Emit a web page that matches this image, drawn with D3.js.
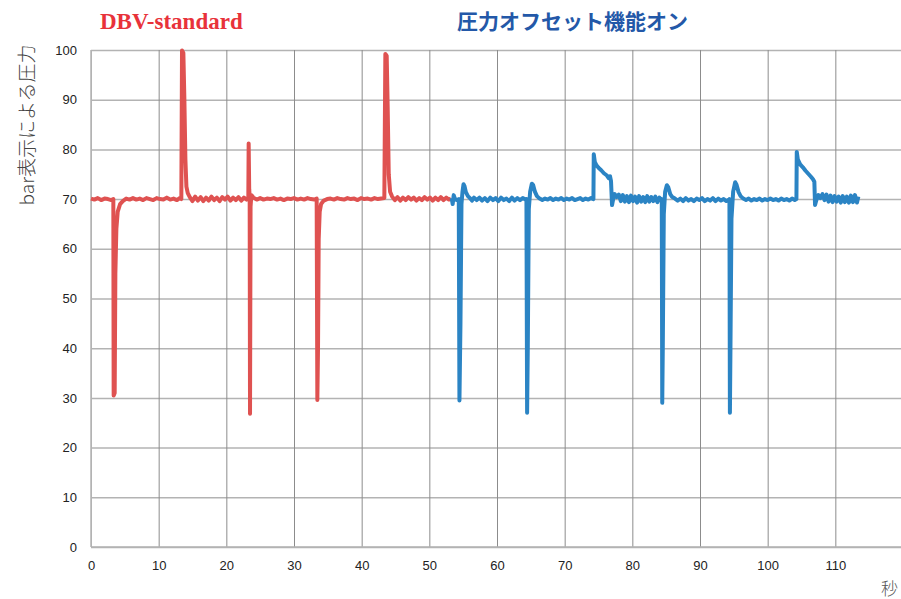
<!DOCTYPE html>
<html>
<head>
<meta charset="utf-8">
<script src="https://cdn.jsdelivr.net/npm/d3@7"></script>
<style>
  body { margin: 0; background: #fff; }
  svg { display: block; }
</style>
</head>
<body>
<div id="container"></div>
<script>
/* DATA */
const xTicks = [0, 10, 20, 30, 40, 50, 60, 70, 80, 90, 100, 110]
const yTicks = [0, 10, 20, 30, 40, 50, 60, 70, 80, 90, 100]

// DBV-standard, [seconds, bar]
const redSeries = [
  [0,70.1],[0.5,69.9],[1,70.2],[1.5,69.8],[2,70.1],[2.5,70.0],[3,69.8],[3.3,70.0],
  [3.35,30.5],[3.5,31],[3.6,55],[3.75,64],[3.95,67.5],[4.3,69.0],[4.7,69.6],[5.2,70.1],
  [5.7,69.9],[6.2,70.2],[6.7,69.9],[7.2,70.1],[7.7,69.8],[8.2,70.2],[8.7,70.0],[9.2,69.8],
  [9.7,70.2],[10.2,70.0],[10.7,69.9],[11.2,70.3],[11.7,69.9],[12.2,70.1],[12.7,69.8],[13.1,70.2],
  [13.35,70.0],[13.45,99.9],[13.65,99.4],[13.8,90],[13.95,78],[14.1,72.5],[14.3,71.2],[14.6,70.4],
  [15,69.6],[15.4,70.5],[15.8,69.7],[16.2,70.4],[16.6,69.6],[17,70.3],[17.4,69.7],[17.8,70.5],
  [18.2,69.8],[18.6,70.3],[19,69.6],[19.4,70.4],[19.8,69.9],[20.2,70.5],[20.6,69.7],[21,70.3],
  [21.4,69.8],[21.8,70.4],[22.2,69.7],[22.6,70.3],[23,69.9],[23.25,70.2],[23.3,81.2],[23.38,72],
  [23.45,70.5],[23.5,26.8],[23.58,68.5],[23.7,70.8],[24.0,70.3],[24.5,69.9],[25,70.2],[25.5,69.9],
  [26,70.1],[26.5,70.0],[27,70.2],[27.5,69.9],[28,70.1],[28.5,69.8],[29,70.1],[29.5,70.0],
  [30,70.2],[30.5,69.9],[31,70.1],[31.5,69.9],[32,70.2],[32.5,70.0],[33,69.9],[33.35,70.1],
  [33.45,29.6],[33.55,40],[33.65,62],[33.8,67.5],[34.0,69.0],[34.4,69.7],[34.9,70.0],[35.4,70.1],
  [35.9,69.9],[36.4,70.2],[36.9,70.0],[37.4,69.9],[37.9,70.2],[38.4,70.0],[38.9,70.1],[39.4,69.8],
  [39.9,70.2],[40.4,70.0],[40.9,70.1],[41.4,69.9],[41.9,70.2],[42.4,70.0],[42.9,70.1],[43.35,70.2],
  [43.5,99.2],[43.7,98.8],[43.85,88],[44.0,75],[44.2,71.5],[44.5,70.5],[44.9,69.8],[45.3,70.4],
  [45.7,69.7],[46.1,70.3],[46.5,69.8],[46.9,70.4],[47.3,69.9],[47.7,70.3],[48.1,69.7],[48.5,70.2],
  [48.9,69.8],[49.3,70.4],[49.7,69.9],[50.1,70.3],[50.5,69.7],[50.9,70.3],[51.3,69.8],[51.7,70.4],
  [52.1,69.8],[52.5,70.3],[52.9,69.9],[53.2,70.1]
]

// 圧力オフセット機能オン, [seconds, bar]
const blueSeries = [
  [53.3,70.2],[53.45,69.0],[53.6,70.8],[53.8,70.0],[54.1,69.8],[54.35,70.0],[54.45,29.5],[54.6,45],
  [54.75,69],[54.9,71.5],[55.05,73.0],[55.2,72.6],[55.4,71.4],[55.7,70.6],[56,70.2],[56.3,69.7],
  [56.6,70.3],[57,69.8],[57.4,70.3],[57.8,69.7],[58.2,70.2],[58.6,69.6],[59,70.3],[59.4,69.8],
  [59.8,70.2],[60.2,69.6],[60.6,70.3],[61,69.8],[61.4,70.1],[61.8,69.6],[62.2,70.3],[62.6,69.7],
  [63,70.2],[63.4,69.8],[63.8,70.2],[64.2,69.9],[64.35,70],[64.45,27],[64.55,40],[64.7,68],
  [64.9,71.5],[65.15,73.1],[65.35,72.8],[65.6,71.5],[65.9,70.6],[66.3,70.1],[66.7,69.8],[67.1,70.1],
  [67.5,69.9],[67.9,70.2],[68.3,69.8],[68.7,70.1],[69.1,69.9],[69.5,70.2],[69.9,69.8],[70.3,70.1],
  [70.7,69.9],[71.1,70.2],[71.5,69.8],[71.9,70.0],[72.3,70.2],[72.7,69.8],[73.1,70.1],[73.5,69.9],
  [73.9,70.2],[74.25,70.0],[74.3,79.0],[74.45,77.5],[74.7,76.8],[75,76.3],[75.4,75.8],[75.8,75.2],
  [76.2,74.8],[76.5,74.2],[76.7,74.6],[76.85,73.6],[77.0,68.8],[77.2,70.2],[77.4,71.0],[77.7,70.4],
  [78.0,70.9],[78.3,69.6],[78.6,70.8],[78.9,69.5],[79.2,70.6],[79.5,69.4],[79.8,70.7],[80.1,69.6],
  [80.4,70.5],[80.7,69.3],[81.0,70.6],[81.3,69.5],[81.6,70.4],[81.9,69.4],[82.2,70.6],[82.5,69.5],
  [82.8,70.4],[83.1,69.6],[83.4,70.5],[83.7,69.4],[84.0,70.3],[84.3,69.9],[84.35,70],[84.42,29],
  [84.5,40],[84.65,67],[84.85,71.5],[85.1,72.8],[85.3,72.4],[85.6,71.0],[85.9,70.4],[86.3,70.1],
  [86.7,69.7],[87.1,70.1],[87.5,69.6],[87.9,70.2],[88.3,69.7],[88.7,70.0],[89.1,69.6],[89.5,70.1],
  [89.9,69.8],[90.3,70.2],[90.7,69.6],[91.1,70.0],[91.5,69.7],[91.9,70.2],[92.3,69.6],[92.7,70.1],
  [93.1,69.7],[93.5,70.0],[93.9,69.6],[94.3,69.9],[94.35,70],[94.42,27],[94.5,40],[94.65,66],
  [94.9,71.5],[95.2,73.4],[95.4,72.9],[95.7,71.4],[96.0,70.6],[96.4,70.1],[96.8,69.8],[97.2,70.1],
  [97.6,69.7],[98,70.0],[98.4,69.8],[98.8,70.1],[99.2,69.7],[99.6,70.0],[100,69.8],[100.4,70.1],
  [100.8,69.8],[101.2,70.0],[101.6,69.7],[102,70.1],[102.4,69.8],[102.8,70.0],[103.2,69.7],[103.6,70.1],
  [104.0,69.8],[104.25,70.0],[104.3,79.5],[104.45,78],[104.8,77],[105.2,76.4],[105.6,75.7],[106,75.1],
  [106.4,74.5],[106.7,74.0],[106.9,73.5],[107.0,68.8],[107.2,69.8],[107.5,70.8],[107.8,70.2],[108.1,71.0],
  [108.4,69.8],[108.7,70.9],[109,69.5],[109.3,70.7],[109.6,69.4],[109.9,70.6],[110.2,69.5],[110.5,70.5],
  [110.8,69.3],[111.1,70.6],[111.4,69.4],[111.7,70.5],[112.0,69.3],[112.3,70.7],[112.6,69.4],[112.9,70.8],
  [113.2,69.3],[113.4,70.5]
]

/* CONSTANTS */
const width = 901
const height = 599
const margin = { top: 50, bottom: 52, left: 91, right: -2 }

const svg = d3.select("#container")
  .append("svg")
  .attr("width", width)
  .attr("height", height)

/* SCALES */
const xScale = d3.scaleLinear()
  .domain([0, 120])
  .range([margin.left, width - margin.right])

const yScale = d3.scaleLinear()
  .domain([0, 100])
  .range([height - margin.bottom, margin.top])

// horizontal grid + y labels
const yAxis = d3.axisLeft(yScale)
  .tickValues(yTicks)
  .tickSize(-(width - margin.left))
  .tickPadding(14)
svg.append("g")
  .attr("transform", `translate(${margin.left},0)`)
  .call(yAxis)
  .call(g => g.select(".domain").remove())
  .call(g => g.selectAll(".tick line").attr("stroke", "#b3b3b3").attr("stroke-width", 1.5))
  .call(g => g.selectAll(".tick text")
    .attr("font-family", "Liberation Sans, Arial, sans-serif")
    .attr("font-size", 13)
    .attr("fill", "#222"))

// vertical grid + x labels
const xAxis = d3.axisBottom(xScale)
  .tickValues(xTicks)
  .tickSize(-(yScale(0) - yScale(100)))
  .tickPadding(14)
  .tickFormat(d3.format("d"))
svg.append("g")
  .attr("transform", `translate(0,${yScale(0)})`)
  .call(xAxis)
  .call(g => g.select(".domain").remove())
  .call(g => g.selectAll(".tick line").attr("stroke", d => d === 0 ? "#b3b3b3" : "#8c8c8c").attr("stroke-width", 1))
  .call(g => g.selectAll(".tick text")
    .attr("font-family", "Liberation Sans Narrow, Liberation Sans, Arial, sans-serif")
    .attr("font-size", 13)
    .attr("fill", "#222"))

// axis lines
svg.append("line")
  .attr("x1", xScale(0)).attr("x2", xScale(0))
  .attr("y1", yScale(100)).attr("y2", yScale(0))
  .attr("stroke", "#b3b3b3").attr("stroke-width", 1.5)
svg.append("line")
  .attr("x1", xScale(0)).attr("x2", width)
  .attr("y1", yScale(0)).attr("y2", yScale(0))
  .attr("stroke", "#b3b3b3").attr("stroke-width", 1.5)

/* LINES */
const line = d3.line()
  .x(d => xScale(d[0]))
  .y(d => yScale(d[1]))

svg.append("path")
  .datum(redSeries)
  .attr("d", line)
  .attr("fill", "none")
  .attr("stroke", "#df5251")
  .attr("stroke-width", 4)
  .attr("stroke-linejoin", "round")

svg.append("path")
  .datum(blueSeries)
  .attr("d", line)
  .attr("fill", "none")
  .attr("stroke", "#2b84c4")
  .attr("stroke-width", 4)
  .attr("stroke-linejoin", "round")

/* TEXT */
svg.append("text")
  .attr("x", 100).attr("y", 29)
  .attr("font-family", "Liberation Serif, serif")
  .attr("font-weight", "bold")
  .attr("font-size", 23)
  .attr("fill", "#e8323a")
  .text("DBV-standard")

svg.append("text")
  .attr("x", 457).attr("y", 29)
  .attr("font-family", "Noto Sans CJK JP, sans-serif")
  .attr("font-weight", "bold")
  .attr("font-size", 21)
  .attr("fill", "#2358a8")
  .text("圧力オフセット機能オン")

svg.append("text")
  .attr("transform", "translate(34,125) rotate(-90)")
  .attr("text-anchor", "middle")
  .attr("font-family", "Noto Sans CJK JP, sans-serif")
  .attr("font-weight", 300)
  .attr("font-size", 19)
  .attr("fill", "#444")
  .text("bar表示による圧力")

svg.append("text")
  .attr("x", 881).attr("y", 595)
  .attr("font-family", "Noto Sans CJK JP, sans-serif")
  .attr("font-weight", 300)
  .attr("font-size", 17)
  .attr("fill", "#555")
  .text("秒")
</script>
</body>
</html>
